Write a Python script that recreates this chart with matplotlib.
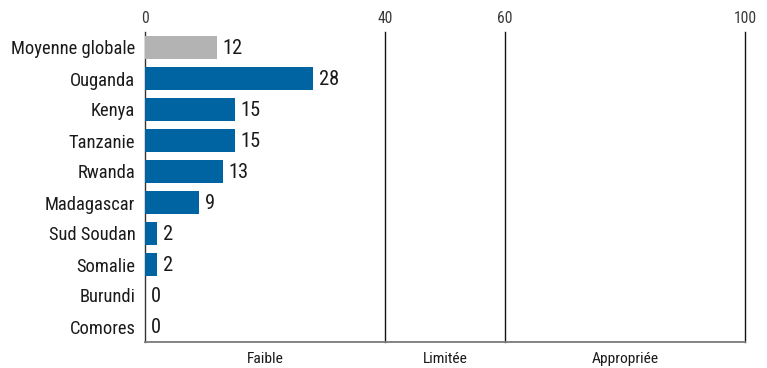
import matplotlib
matplotlib.use("Agg")
import matplotlib.pyplot as plt
from matplotlib import font_manager
from matplotlib.textpath import TextPath
from matplotlib.font_manager import FontProperties

countries = ["Moyenne globale", "Ouganda", "Kenya", "Tanzanie", "Rwanda",
             "Madagascar", "Sud Soudan", "Somalie", "Burundi", "Comores"]
values = [12, 28, 15, 15, 13, 9, 2, 2, 0, 0]
tick_values = [0, 40, 60, 100]
zone_labels = ["Faible", "Limitée", "Appropriée"]
zone_bounds = [0, 40, 60, 100]

names = {f.name for f in font_manager.fontManager.ttflist}
cands = ["Roboto Condensed", "Archivo Narrow", "Liberation Sans Narrow", "PT Sans Narrow",
         "Pragati Narrow", "Fira Sans Condensed", "IBM Plex Sans Condensed",
         "Encode Sans Condensed", "Open Sans Condensed", "Arimo"]
fam = next((c for c in cands if c in names), "DejaVu Sans")
plt.rcParams["font.family"] = [fam, "DejaVu Sans"]

DPI = 100


def fit(text, target_px):
    fp = FontProperties(family=[fam, "DejaVu Sans"], size=10)
    w = TextPath((0, 0), text, prop=fp).get_extents().width
    w_px = w * DPI / 72.0
    return 10 * target_px / w_px


fs_names = fit("Moyenne globale", 122)
fs_vals = fit("28", 18)
fs_ticks = fit("100", 21)
fs_zone = fit("Faible", 35)

fig = plt.figure(figsize=(7.67, 3.68), dpi=DPI)
ax = fig.add_axes([145/767, 1-342/368, 600/767, 310/368])

colors = ["#b3b3b3"] + ["#0063a2"] * (len(values) - 1)
y = list(range(len(values)))
ax.barh(y, values, height=0.72, color=colors, zorder=3)
for yi, v in zip(y, values):
    ax.annotate(str(v), (v, yi), xytext=(4, -1), textcoords="offset points",
                va="center", ha="left", fontsize=fs_vals, color="#1a1a1a")

ax.set_xlim(0, 100)
ax.set_ylim(len(values) - 0.5, -0.5)
ax.set_yticks(y)
ax.set_yticklabels(countries, fontsize=fs_names, color="#1a1a1a")
ax.tick_params(axis="y", length=0, pad=7)

ax.xaxis.tick_top()
ax.set_xticks(tick_values)
ax.set_xticklabels([str(t) for t in tick_values], fontsize=fs_ticks, color="#3a3a3a")
ax.tick_params(axis="x", length=0, pad=4)

for s in ["top", "right"]:
    ax.spines[s].set_visible(False)
ax.spines["left"].set_color("#333333")
ax.spines["left"].set_linewidth(1.0)
ax.spines["bottom"].set_color("#7a7a7a")
ax.spines["bottom"].set_linewidth(1.3)

for xv in tick_values[1:]:
    ax.axvline(xv, color="#111111", linewidth=1.0, zorder=2, clip_on=False)

for i, lab in enumerate(zone_labels):
    xc = (zone_bounds[i] + zone_bounds[i + 1]) / 2
    ax.annotate(lab, (xc, 0), xycoords=("data", "axes fraction"), xytext=(0, -7.5),
                textcoords="offset points", ha="center", va="top",
                fontsize=fs_zone, color="#1a1a1a")

fig.savefig("out.png", dpi=DPI)
